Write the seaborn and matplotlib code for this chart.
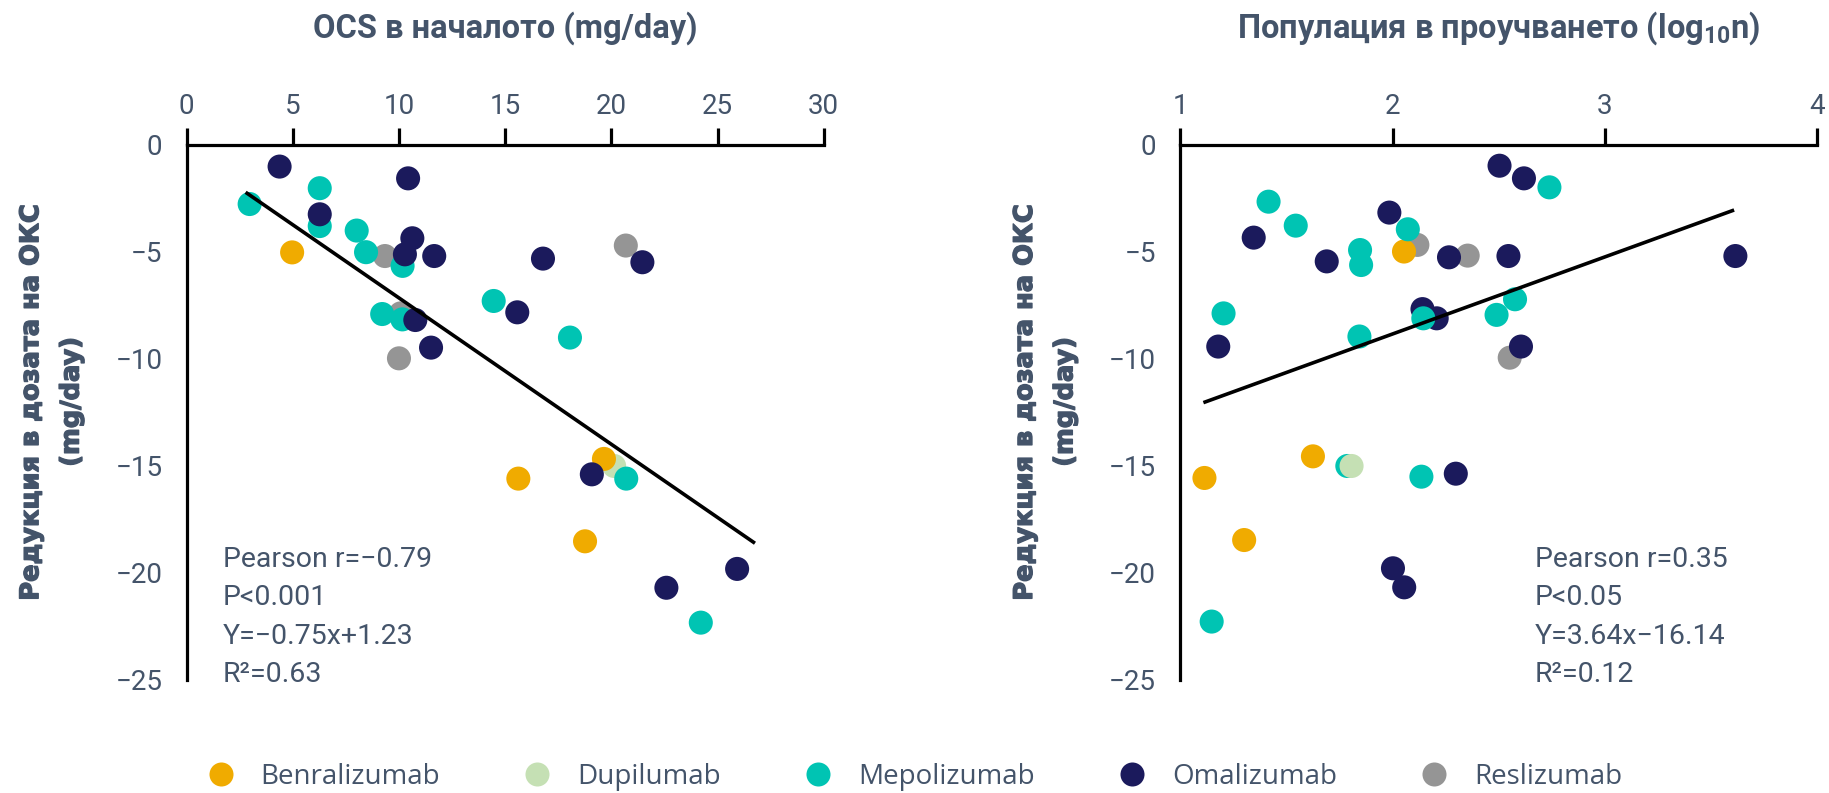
import pandas as pd
import seaborn as sns
import matplotlib.pyplot as plt
import matplotlib.patheffects as pe
from matplotlib.lines import Line2D
from matplotlib.transforms import ScaledTranslation

# Drugs and colours
drugs = ['Benralizumab', 'Dupilumab', 'Mepolizumab', 'Omalizumab', 'Reslizumab']
colors = ['#F0AB00', '#C5E0B4', '#00C4B3', '#1B1A5C', '#959595']
palette = dict(zip(drugs, colors))

# Left panel: baseline OCS dose (mg/day) vs OCS reduction (mg/day)
ocs_x = [9.34, 20.68, 10.08, 10.0,
         20.13,
         4.97, 19.65, 15.62, 18.76,
         6.27, 2.97, 6.27, 8.01, 8.45, 10.17, 14.46, 9.21, 10.16, 18.05, 20.7, 24.21,
         4.38, 6.27, 10.43, 10.63, 10.28, 11.66, 16.78, 21.46, 15.57, 10.77, 11.51, 19.08, 25.92, 22.59]
ocs_y = [-5.19, -4.70, -7.87, -9.97,
         -15.0,
         -5.02, -14.67, -15.59, -18.52,
         -2.02, -2.76, -3.79, -4.0, -5.01, -5.65, -7.29, -7.90, -8.15, -9.0, -15.59, -22.32,
         -1.01, -3.24, -1.56, -4.36, -5.11, -5.19, -5.31, -5.48, -7.82, -8.18, -9.47, -15.39, -19.81, -20.69]
ocs_drug = (['Reslizumab'] * 4 + ['Dupilumab'] + ['Benralizumab'] * 4
            + ['Mepolizumab'] * 12 + ['Omalizumab'] * 14)
ocs_fit_x = [2.78, 26.76]
ocs_fit_y = [-2.21, -18.61]
ocs_stats = ['Pearson r=\u22120.79', 'P<0.001', 'Y=\u22120.75x+1.23', 'R\u00b2=0.63']

# Right panel: study population (log10 n) vs OCS reduction (mg/day)
pop_x = [2.117, 2.354, 2.552,
         2.054, 1.114, 1.625, 1.301,
         2.504, 2.619, 1.985, 1.346, 1.69, 2.266, 2.546, 3.615, 2.141, 2.208, 1.179, 2.605,
         2.298, 2.002, 2.055,
         2.739, 1.416, 1.544, 2.072, 1.847, 1.852, 1.204, 2.145, 2.577, 2.49, 1.844, 1.787,
         2.136, 1.148,
         1.807]
pop_y = [-4.67, -5.17, -9.94,
         -4.98, -15.56, -14.55, -18.46,
         -0.97, -1.56, -3.16, -4.33, -5.44, -5.25, -5.19, -5.19, -7.67, -8.10, -9.42, -9.42,
         -15.36, -19.78, -20.67,
         -1.98, -2.65, -3.77, -3.94, -4.91, -5.61, -7.87, -8.10, -7.21, -7.94, -8.95, -15.0,
         -15.50, -22.27,
         -15.0]
pop_drug = (['Reslizumab'] * 3 + ['Benralizumab'] * 4 + ['Omalizumab'] * 15
            + ['Mepolizumab'] * 14 + ['Dupilumab'])
pop_fit_x = [1.109, 3.609]
pop_fit_y = [-12.04, -3.04]
pop_stats = ['Pearson r=0.35', 'P<0.05', 'Y=3.64x\u221216.14', 'R\u00b2=0.12']

y_ticks = [0, -5, -10, -15, -20, -25]
ocs_ticks = [0, 5, 10, 15, 20, 25, 30]
pop_ticks = [1, 2, 3, 4]

TXT = '#44546A'
sns.set_style('white')
plt.rcParams['font.family'] = ['Roboto', 'DejaVu Sans']
plt.rcParams['mathtext.fontset'] = 'custom'
plt.rcParams['mathtext.rm'] = 'Roboto'
plt.rcParams['mathtext.bf'] = 'Roboto:bold'

fig = plt.figure(figsize=(18.29, 7.93), dpi=100)
ax1 = fig.add_axes([0.1020, 0.1425, 0.3484, 0.6747])
ax2 = fig.add_axes([0.6453, 0.1425, 0.3482, 0.6747])


def draw_panel(ax, xs, ys, ds, fit_x, fit_y, xticks, title, stats, stats_x):
    df = pd.DataFrame({'x': xs, 'y': ys, 'drug': ds})
    sns.scatterplot(data=df, x='x', y='y', hue='drug', palette=palette, s=300,
                    linewidth=0, legend=False, ax=ax, zorder=3, clip_on=False)
    ax.plot(fit_x, fit_y, color='black', lw=2.6, zorder=4, solid_capstyle='butt')

    ax.set_xlim(xticks[0], xticks[-1])
    ax.set_ylim(-25, 0)
    ax.set_xticks(xticks)
    ax.set_yticks(y_ticks)
    ax.xaxis.tick_top()
    ax.set_xlabel('')
    for s in ['bottom', 'right']:
        ax.spines[s].set_visible(False)
    for s in ['top', 'left']:
        ax.spines[s].set_linewidth(2.3)
        ax.spines[s].set_color('black')
    ax.tick_params(axis='x', direction='out', length=12, width=2.3, pad=6,
                   labelsize=20, labelcolor=TXT, color='black')
    ax.tick_params(axis='y', direction='out', length=10.5, width=2.0, pad=6.8,
                   labelsize=20, labelcolor=TXT, color='black')
    shift = ScaledTranslation(-0.09, 0, fig.dpi_scale_trans)
    for t in ax.yaxis.get_major_ticks():
        t.tick1line.set_marker('|')
        t.tick1line.set_transform(t.tick1line.get_transform() + shift)

    ax.set_title(title, fontsize=23.5, fontweight='bold', color=TXT, y=1.2009, pad=0)
    ax.set_ylabel('Редукция в дозата на ОКС\n(mg/day)', fontsize=18.5, fontweight='bold',
                  color=TXT, fontfamily='DejaVu Sans', linespacing=1.72,
                  path_effects=[pe.withStroke(linewidth=1.0, foreground=TXT)])
    ax.yaxis.set_label_coords(-0.160, 0.52)

    for i, line in enumerate(stats):
        ax.text(stats_x, 0.2112 - i * 0.0716, line, transform=ax.transAxes,
                fontsize=20.5, color=TXT, va='baseline', ha='left')


draw_panel(ax1, ocs_x, ocs_y, ocs_drug, ocs_fit_x, ocs_fit_y, ocs_ticks,
           'OCS в началото (mg/day)', ocs_stats, 0.0567)
draw_panel(ax2, pop_x, pop_y, pop_drug, pop_fit_x, pop_fit_y, pop_ticks,
           r'Популация в проучването (log$_{\mathbf{10}}$n)', pop_stats, 0.557)

handles = [Line2D([], [], marker='o', linestyle='', markersize=17.3,
                  markerfacecolor=c, markeredgewidth=0) for c in colors]
fig.legend(handles, drugs, loc='center', bbox_to_anchor=(0.5, 16 / 793), ncol=5,
           frameon=False, prop={'family': ['Open Sans', 'DejaVu Sans'], 'size': 20},
           labelcolor=TXT, handlelength=1.0, handletextpad=0.94, columnspacing=3.0,
           borderaxespad=0)

fig.savefig('out.png', dpi=100)
